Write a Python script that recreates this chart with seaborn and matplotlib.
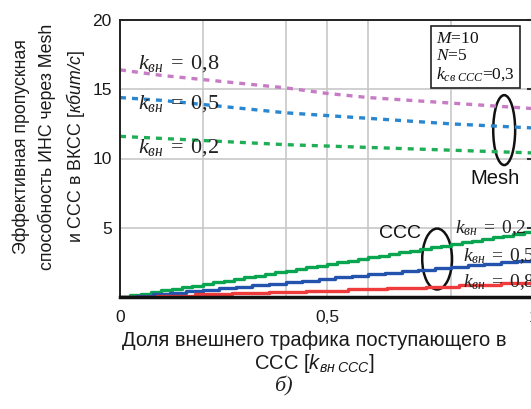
import numpy as np
import pandas as pd
import matplotlib
matplotlib.use("Agg")
import matplotlib.pyplot as plt
from matplotlib.patches import Ellipse
import seaborn as sns

# ---------------- data ----------------
mesh_x = [0.0, 0.1, 0.2, 0.3, 0.4, 0.5, 0.6, 0.7, 0.8, 0.9, 1.0]
mesh_k08 = [16.4, 16.0, 15.7, 15.4, 15.1, 14.7, 14.4, 14.2, 14.0, 13.8, 13.6]
mesh_k05 = [14.4, 14.2, 13.9, 13.6, 13.3, 13.1, 12.9, 12.7, 12.5, 12.35, 12.2]
mesh_k02 = [11.6, 11.45, 11.3, 11.15, 11.0, 10.9, 10.8, 10.7, 10.6, 10.5, 10.4]

green_x = [0.0, 0.025, 0.05, 0.075, 0.1, 0.125, 0.15, 0.175, 0.2, 0.225, 0.25, 0.275,
           0.3, 0.325, 0.35, 0.375, 0.4, 0.425, 0.45, 0.475, 0.5, 0.525, 0.55, 0.575,
           0.6, 0.625, 0.65, 0.675, 0.7, 0.725, 0.75, 0.775, 0.8, 0.825, 0.85, 0.875,
           0.9, 0.925, 0.95, 0.975, 1.0]
ccc_k02 = [0.0, 0.11, 0.23, 0.35, 0.47, 0.59, 0.71, 0.83, 0.95, 1.07, 1.19, 1.31,
           1.43, 1.55, 1.67, 1.79, 1.91, 2.03, 2.15, 2.27, 2.39, 2.51, 2.63, 2.75,
           2.87, 2.99, 3.11, 3.23, 3.35, 3.47, 3.59, 3.71, 3.83, 3.95, 4.07, 4.19,
           4.31, 4.43, 4.55, 4.67, 4.78]
blue_x = [0.0, 0.04, 0.08, 0.12, 0.16, 0.2, 0.24, 0.28, 0.32, 0.36, 0.4, 0.44, 0.48,
          0.52, 0.56, 0.6, 0.64, 0.68, 0.72, 0.76, 0.8, 0.84, 0.88, 0.92, 0.96, 1.0]
ccc_k05 = [0.0, 0.1, 0.2, 0.31, 0.42, 0.53, 0.64, 0.75, 0.86, 0.97, 1.08, 1.19, 1.3,
           1.41, 1.52, 1.63, 1.74, 1.85, 1.96, 2.07, 2.18, 2.29, 2.4, 2.5, 2.6, 2.7]
red_x = [0.0, 0.09, 0.18, 0.27, 0.36, 0.45, 0.55, 0.645, 0.74, 0.82, 0.92, 1.0]
ccc_k08 = [0.0, 0.1, 0.2, 0.3, 0.38, 0.46, 0.55, 0.65, 0.75, 0.87, 1.0, 1.08]

x_grid = [0, 0.2, 0.4, 0.5, 0.6, 0.8, 1.0]
x_labels = ["0", "", "", "0,5", "", "", "1"]
y_ticks = [5, 10, 15, 20]
y_labels = ["5", "10", "15", "20"]

mesh_labels = ["0,8", "0,5", "0,2"]
ccc_labels = ["0,2", "0,5", "0,8"]

# ---------------- style ----------------
sns.set_theme(style="white")
plt.rcParams["font.family"] = ["Liberation Sans", "DejaVu Sans"]
plt.rcParams["mathtext.fontset"] = "custom"
plt.rcParams["mathtext.rm"] = "Liberation Serif"
plt.rcParams["mathtext.it"] = "Liberation Serif:italic"
plt.rcParams["mathtext.sf"] = "Liberation Sans:italic"

W, H = 531, 409
fig = plt.figure(figsize=(W / 100, H / 100), dpi=100)
ax = fig.add_axes([120 / W, 1 - 297 / H, 414 / W, 277 / H])


def px(x, y):
    return x / W, 1 - y / H


mesh_df = pd.DataFrame({"x": mesh_x * 3,
                        "y": mesh_k08 + mesh_k05 + mesh_k02,
                        "k": ["0.8"] * 11 + ["0.5"] * 11 + ["0.2"] * 11})
mesh_pal = {"0.8": "#c77bc4", "0.5": "#2a86cf", "0.2": "#1fae55"}
sns.lineplot(data=mesh_df, x="x", y="y", hue="k", palette=mesh_pal, ax=ax,
             legend=False, linewidth=2.4, linestyle=(0, (1.8, 1.8)))

sns.lineplot(x=green_x, y=ccc_k02, color="#0aa550", ax=ax,
             linewidth=2.4, drawstyle="steps-post")
sns.lineplot(x=blue_x, y=ccc_k05, color="#2453ad", ax=ax,
             linewidth=2.4, drawstyle="steps-post")
sns.lineplot(x=red_x, y=ccc_k08, color="#ef3b3b", ax=ax,
             linewidth=2.4, drawstyle="steps-post")

ax.set_xlim(0, 1)
ax.set_ylim(0, 20)
ax.set_xticks(x_grid)
ax.set_xticklabels(x_labels)
ax.set_yticks(y_ticks)
ax.set_yticklabels(y_labels)
ax.grid(True, color="#c8c8c8", linewidth=1.2)
ax.tick_params(axis="x", length=0, pad=9, labelsize=12.5, colors="#1a1a1a")
ax.tick_params(axis="y", left=False, right=True, direction="in", length=5,
               width=1.5, color="#333333", pad=6, labelsize=12.5, labelcolor="#1a1a1a")
ax.set_xlabel("")
ax.set_ylabel("")
for side in ["left", "top", "right"]:
    ax.spines[side].set_color("#222222")
    ax.spines[side].set_linewidth(1.4)
ax.spines["bottom"].set_color("#111111")
ax.spines["bottom"].set_linewidth(2.5)

# labels on curves
for lab, y in zip(mesh_labels, [63, 103, 147]):
    fig.text(*px(138, y), r"$k_{вн}\;=\;%s$" % lab.replace(",", "{,}"),
             fontsize=16, ha="left", va="center", color="#222222")
for lab, (x, y) in zip(ccc_labels, [(455, 228), (463, 256), (463, 282)]):
    fig.text(*px(x, y), r"$k_{вн}\;=\;%s$" % lab.replace(",", "{,}"),
             fontsize=14, ha="left", va="center", color="#222222")

# parameter box
fig.text(*px(436, 57), "$M$=10\n$N$=5\n$k_{св\\ ССС}$=0,3",
         fontsize=12.5, ha="left", va="center", color="#111111",
         family="Liberation Serif", linespacing=1.1,
         bbox=dict(boxstyle="square,pad=0.3", fc="white", ec="#222222", lw=1.2))

# ellipses
ax.add_patch(Ellipse((0.928, 12.05), 0.053, 5.05, fill=False, ec="#111111", lw=1.8))
ax.add_patch(Ellipse((0.766, 2.74), 0.072, 4.4, fill=False, ec="#111111", lw=1.8))
fig.text(*px(495, 178), "Mesh", fontsize=14.5, ha="center", va="center", color="#111111")
fig.text(*px(400, 233), "ССС", fontsize=14, ha="center", va="center", color="#111111")

# axis labels
fig.text(*px(50, 147), "Эффективная пропускная\nспособность ИНС через Mesh\nи ССС в ВКСС [$\\mathsf{кбит/с}$]",
         rotation=90, ha="center", va="center", fontsize=12.8, linespacing=1.5,
         color="#1a1a1a")
fig.text(*px(314, 353), "Доля внешнего трафика поступающего в\nССС [$\\mathsf{k_{вн\\ ССС}}$]",
         ha="center", va="center", fontsize=14.5, linespacing=1.15, color="#1a1a1a")
fig.text(*px(283, 386), "б)", ha="center", va="center", fontsize=16,
         family="Liberation Serif", style="italic", color="#222222")

fig.savefig("out.png", dpi=100)
